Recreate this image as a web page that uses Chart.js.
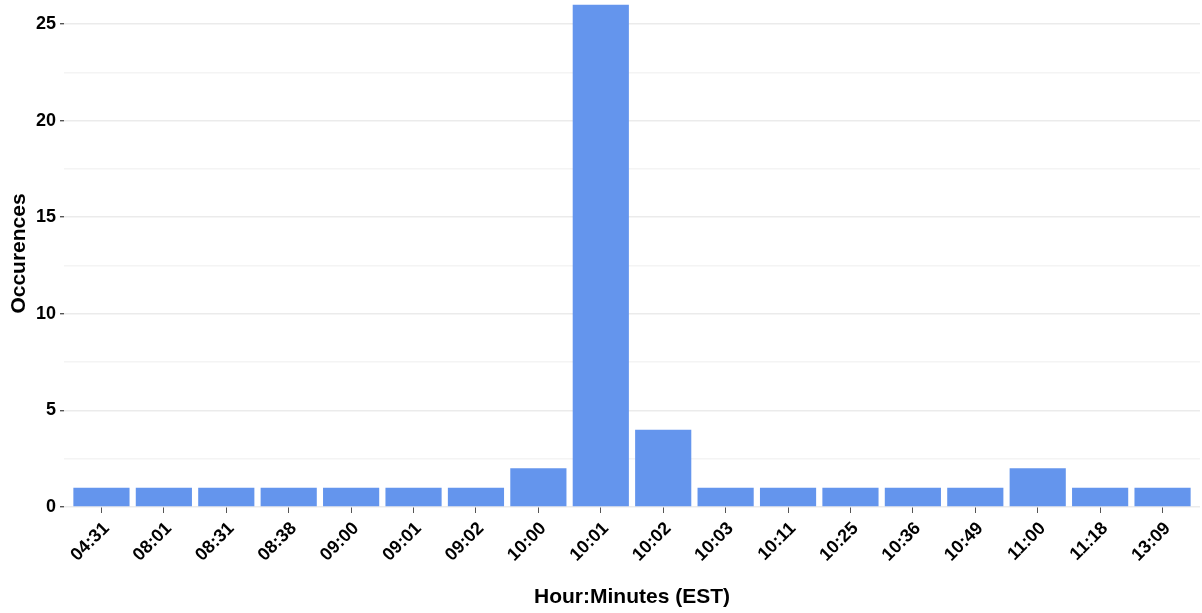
<!DOCTYPE html>
<html>
<head>
<meta charset="utf-8">
<script src="https://cdn.jsdelivr.net/npm/chart.js@4/dist/chart.umd.min.js"></script>
<style>
  html, body { margin: 0; padding: 0; background: #fff; }
  #wrap { width: 1202px; height: 613px; }
</style>
</head>
<body>
<div id="wrap"><canvas id="occChart"></canvas></div>
<script>
// --- data ---
const times = ['04:31', '08:01', '08:31', '08:38', '09:00', '09:01', '09:02', '10:00', '10:01',
               '10:02', '10:03', '10:11', '10:25', '10:36', '10:49', '11:00', '11:18', '13:09'];
const counts = [1, 1, 1, 1, 1, 1, 1, 2, 26, 4, 1, 1, 1, 1, 1, 2, 1, 1];
const yTicks = [0, 2.5, 5, 7.5, 10, 12.5, 15, 17.5, 20, 22.5, 25];

const font = '"Liberation Sans", Arial, Helvetica, sans-serif';

const ctx = document.getElementById('occChart').getContext('2d');
new Chart(ctx, {
    type: 'bar',
    data: {
        datasets: [{
            data: counts.map((c, i) => ({ x: i, y: c })),
            backgroundColor: '#6495ED',
            borderWidth: 0,
            barPercentage: 0.9,
            categoryPercentage: 1.0
        }]
    },
    options: {
        responsive: true,
        maintainAspectRatio: false,
        animation: false,
        layout: { padding: { top: 0, right: 2, left: 0, bottom: 0 } },
        plugins: { legend: { display: false }, tooltip: { enabled: false } },
        scales: {
            x: {
                type: 'linear',
                min: -0.6,
                max: times.length - 0.4,
                offset: false,
                afterBuildTicks: (s) => { s.ticks = times.map((_, i) => ({ value: i })); },
                afterFit: (s) => { s.height = 106; s.paddingRight = 0; },
                grid: { offset: false, drawOnChartArea: false, drawTicks: true, tickLength: 6, color: '#555' },
                border: { display: false },
                ticks: {
                    autoSkip: false,
                    maxRotation: 45,
                    minRotation: 45,
                    padding: 5,
                    labelOffset: 5,
                    color: '#000',
                    font: { family: font, size: 18, weight: 'bold' },
                    callback: (v) => times[v]
                },
                title: {
                    display: true,
                    text: 'Hour:Minutes (EST)',
                    color: '#000',
                    padding: { top: 0, bottom: 3 },
                    font: { family: font, size: 21, weight: 'bold' }
                }
            },
            y: {
                min: 0,
                max: 26.24,
                afterBuildTicks: (s) => { s.ticks = yTicks.map(v => ({ value: v })); },
                afterFit: (s) => { s.width = 64; s.paddingTop = 0; s.paddingBottom = 0; },
                grid: {
                    color: (c) => (c.tick && c.tick.value % 5 === 0) ? '#ebebeb' : '#f4f4f4',
                    lineWidth: 1.4,
                    tickColor: (c) => (c.tick && c.tick.value % 5 === 0) ? '#555' : 'rgba(0,0,0,0)',
                    tickLength: 4
                },
                border: { display: false },
                ticks: {
                    padding: 4,
                    color: '#000',
                    font: { family: font, size: 18, weight: 'bold' },
                    callback: (v) => (v % 5 === 0 ? v : '')
                },
                title: {
                    display: true,
                    text: 'Occurences',
                    color: '#000',
                    padding: { top: 7, bottom: 2 },
                    font: { family: font, size: 21, weight: 'bold' }
                }
            }
        }
    }
});
</script>
</body>
</html>
